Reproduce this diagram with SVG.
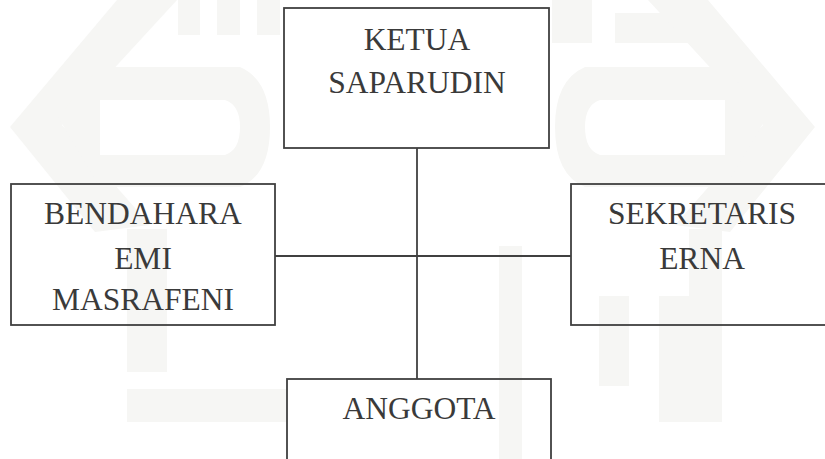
<svg xmlns="http://www.w3.org/2000/svg" width="825" height="459" viewBox="0 0 825 459">
<style>
.box{fill:none;stroke:#404040;stroke-width:1.8}
.lbl{font-family:"Liberation Serif","Times New Roman",serif;font-size:31.5px;fill:#3a3a3a;text-anchor:middle}
.con{stroke:#404040;stroke-width:1.8;fill:none}
.wm{fill:#f6f6f4;stroke:none}
</style>
<rect width="825" height="459" fill="#ffffff"/>
<g id="watermark">
<rect class="wm" x="178" y="0" width="22" height="35"/>
<rect class="wm" x="217" y="0" width="23" height="35"/>
<rect class="wm" x="257" y="0" width="23" height="35"/>
<rect class="wm" x="552" y="0" width="40" height="43"/>
<rect class="wm" x="615" y="13" width="74" height="30"/>
<polygon class="wm" points="117,0 177,0 62,125 150,225 95,232 10,127"/>
<path class="wm" d="M58,117 L100,67 L240,67 Q270,80 270,127 Q270,175 240,187 L100,187 Z M100,100 L100,155 L225,155 Q240,150 240,127 Q240,105 225,100 Z" fill-rule="evenodd"/>
<polygon class="wm" points="708,0 648,0 763,125 675,225 730,232 815,127"/>
<path class="wm" d="M767,117 L725,67 L585,67 Q555,80 555,127 Q555,175 585,187 L725,187 Z M725,100 L725,155 L600,155 Q585,150 585,127 Q585,105 600,100 Z" fill-rule="evenodd"/>
<rect class="wm" x="127" y="229" width="40" height="143"/>
<rect class="wm" x="127" y="389" width="160" height="33"/>
<rect class="wm" x="499" y="246" width="23" height="213"/>
<rect class="wm" x="599" y="296" width="30" height="90"/>
<rect class="wm" x="659" y="296" width="30" height="126"/>
<rect class="wm" x="689" y="229" width="33" height="193"/>
</g>
<g id="connectors">
<line class="con" x1="417" y1="148" x2="417" y2="379"/>
<line class="con" x1="275" y1="256" x2="571" y2="256"/>
</g>
<g id="ketua">
<rect class="box" x="284" y="8" width="265" height="140"/>
<text class="lbl" x="417" y="50">KETUA</text>
<text class="lbl" x="417" y="93">SAPARUDIN</text>
</g>
<g id="bendahara">
<rect class="box" x="11" y="184" width="264" height="141"/>
<text class="lbl" x="143" y="224">BENDAHARA</text>
<text class="lbl" x="143" y="269">EMI</text>
<text class="lbl" x="143" y="310">MASRAFENI</text>
</g>
<g id="sekretaris">
<rect class="box" x="571" y="184" width="270" height="141"/>
<text class="lbl" x="702" y="224">SEKRETARIS</text>
<text class="lbl" x="702" y="269">ERNA</text>
</g>
<g id="anggota">
<rect class="box" x="287" y="379" width="264" height="100"/>
<text class="lbl" x="419" y="419">ANGGOTA</text>
</g>
</svg>
